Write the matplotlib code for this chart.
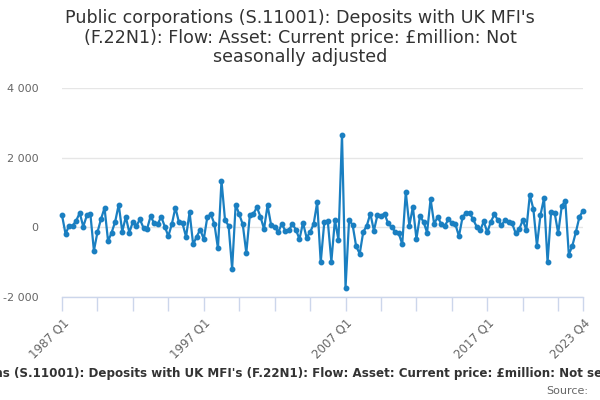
import numpy as np
import matplotlib
matplotlib.use("Agg")
import matplotlib.pyplot as plt

# quarterly flows, 1987 Q1 .. 2023 Q4 (£million)
values = [
    350, -189, 47, 47, 189, 416, 19, 340, 387, -671,
    -142, 236, 558, -397, -151, 161, 652, -123, 302, -151,
    161, 47, 227, -19, -47, 321, 113, 95, 302, 19,
    -255, 95, 567, 142, 113, -274, 435, -491, -265, -66,
    -340, 293, 378, 95, -605, 1342, 208, 47, -1191, 652,
    378, 85, -737, 359, 387, 576, 302, -47, 633, 66,
    19, -142, 95, -95, -85, 95, -66, -340, 132, -293,
    -142, 95, 718, -1002, 142, 170, -983, 208, -359, 2665,
    -1729, 208, 66, -548, -756, -132, 47, 397, -95, 350,
    331, 397, 113, 9, -123, -170, -482, 1011, 47, 586,
    -331, 321, 161, -151, 813, 95, 302, 95, 38, 227,
    132, 85, -255, 284, 425, 416, 227, 19, -85, 170,
    -142, 161, 369, 208, 57, 208, 161, 113, -170, -57,
    208, -76, 936, 520, -529, 350, 841, -1002, 444, 416,
    -170, 605, 765, -784, -529, -132, 302, 473,
]
quarters = [f"{1987 + i // 4} Q{i % 4 + 1}" for i in range(len(values))]
labelled = ["1987 Q1", "1997 Q1", "2007 Q1", "2017 Q1", "2023 Q4"]
y_ticks = [-2000, 0, 2000, 4000]

title = ("Public corporations (S.11001): Deposits with UK MFI's\n"
         "(F.22N1): Flow: Asset: Current price: £million: Not\n"
         "seasonally adjusted")
caption = ("Public corporations (S.11001): Deposits with UK MFI's (F.22N1): "
           "Flow: Asset: Current price: £million: Not seasonally adjusted")

fig = plt.figure(figsize=(6, 4), dpi=100)
ax = fig.add_axes([62 / 600, 103 / 400, 521 / 600, 209 / 400])

x = np.arange(len(values))
ax.plot(x, values, color="#1a7fc1", linewidth=1.6, marker="o",
        markersize=3.2, zorder=3, clip_on=False)

ax.set_xlim(0, len(values) - 1)
ax.set_ylim(-2000, 4000)
ax.set_yticks(y_ticks)
ax.set_yticklabels([f"{v:,}".replace(",", " ") for v in y_ticks],
                   color="#666666", fontsize=8)
ax.grid(axis="y", color="#e6e6e6", linewidth=1)
ax.set_axisbelow(True)

tick_pos = list(range(0, len(values), 10)) + [len(values) - 1]
ax.set_xticks(tick_pos)
ax.set_xticklabels([quarters[i] if quarters[i] in labelled else "" for i in tick_pos],
                   rotation=45, ha="right", rotation_mode="anchor",
                   color="#666666", fontsize=8.5)
ax.tick_params(axis="x", length=10, color="#ccd6eb", width=1, pad=4)
ax.tick_params(axis="y", length=0, pad=17)

for side in ["top", "right", "left"]:
    ax.spines[side].set_visible(False)
ax.spines["bottom"].set_color("#ccd6eb")
ax.spines["bottom"].set_linewidth(1)

fig.text(0.5, 1 - 9 / 400, title, ha="center", va="top", fontsize=12.6,
         color="#333333", linespacing=1.12)
# long caption is wider than the figure and gets cut at both edges, as in the original
fig.text(0.5, 1 - 373 / 400, caption, ha="center", va="center", fontsize=8.6,
         fontweight="bold", color="#333333")
fig.text(588 / 600, 1 - 391 / 400, "Source:", ha="right", va="center",
         fontsize=8, color="#666666")

fig.savefig("out.png", dpi=100)
